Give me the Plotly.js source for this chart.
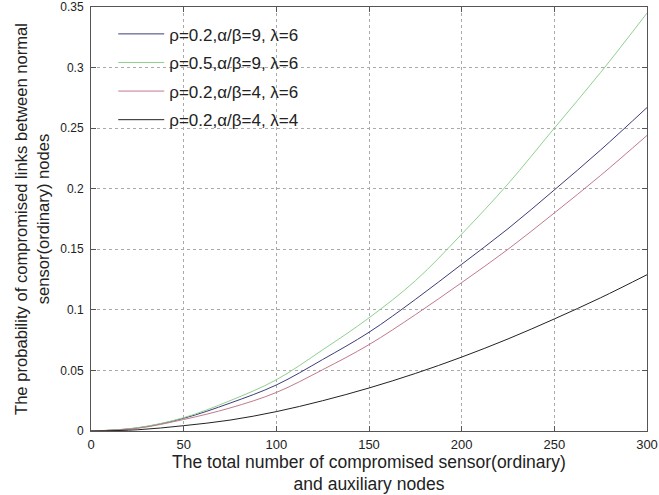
<!DOCTYPE html>
<html>
<head>
<meta charset="utf-8">
<script src="https://cdn.plot.ly/plotly-3.0.1.min.js"></script>
<style>html,body{margin:0;padding:0;background:#fff;}#chart{width:659px;height:495px;}</style>
</head>
<body>
<div id="chart"></div>
<script>
const xVals = [0, 25, 50, 75, 100, 125, 150, 175, 200, 225, 250, 275, 300];
const seriesNames = ["ρ=0.2,α/β=9, λ=6", "ρ=0.5,α/β=9, λ=6", "ρ=0.2,α/β=4, λ=6", "ρ=0.2,α/β=4, λ=4"];
const yBlue  = [0, 0.0025, 0.0105, 0.023, 0.038, 0.059, 0.0815, 0.1086, 0.1376, 0.167, 0.199, 0.232, 0.267];
const yGreen = [0, 0.0027, 0.011, 0.025, 0.0423, 0.067, 0.0934, 0.124, 0.1625, 0.204, 0.25, 0.296, 0.345];
const yRed   = [0, 0.0022, 0.0095, 0.019, 0.0318, 0.0506, 0.0713, 0.096, 0.1225, 0.15, 0.18, 0.211, 0.244];
const yBlack = [0, 0.001, 0.0044, 0.009, 0.016, 0.025, 0.0355, 0.0475, 0.061, 0.076, 0.0925, 0.11, 0.129];
const colors = ["#3c3c78", "#8fd08f", "#c07a8a", "#222222"];
const ys = [yBlue, yGreen, yRed, yBlack];

const traces = ys.map((y, i) => ({
  x: xVals, y: y, type: "scatter", mode: "lines", name: seriesNames[i],
  legendgroup: "g" + i,
  line: {color: colors[i], width: 1, shape: "spline"}
}));

const axisCommon = {
  showline: true, mirror: "ticks", linecolor: "#555", linewidth: 1,
  ticks: "inside", ticklen: 5, tickcolor: "#555",
  showgrid: true, gridcolor: "#aaa", griddash: "dot", gridwidth: 1,
  zeroline: false, tickfont: {family: "Liberation Sans, Arial, sans-serif", size: 12, color: "#222"}
};

const layout = {
  width: 659, height: 495,
  margin: {l: 91, r: 12, t: 7, b: 64},
  paper_bgcolor: "#fff", plot_bgcolor: "#fff",
  font: {family: "Liberation Sans, Arial, sans-serif", color: "#222"},
  showlegend: true,
  legend: {x: 0.04, y: 0.978, xanchor: "left", yanchor: "top", bgcolor: "rgba(0,0,0,0)",
    font: {size: 17, family: "Liberation Sans, Arial, sans-serif", color: "#222"},
    tracegroupgap: 3.5, itemwidth: 46},
  xaxis: Object.assign({}, axisCommon, {
    range: [0, 300], tickvals: [0, 50, 100, 150, 200, 250, 300], ticklabelstandoff: 1,
    tickfont: {family: "Liberation Sans, Arial, sans-serif", size: 13, color: "#222"},
    title: {text: "The total number of compromised sensor(ordinary)<br>and auxiliary nodes",
      font: {size: 17.5, color: "#222"}, standoff: 1}
  }),
  yaxis: Object.assign({}, axisCommon, {
    range: [0, 0.35], tickvals: [0, 0.05, 0.1, 0.15, 0.2, 0.25, 0.3, 0.35],
    ticktext: ["0", "0.05", "0.1", "0.15", "0.2", "0.25", "0.3", "0.35"], ticklabelstandoff: 4,
    title: {text: "The probability of compromised links between normal<br>sensor(ordinary) nodes",
      font: {size: 16.6, color: "#222"}, standoff: 6}
  })
};

Plotly.newPlot("chart", traces, layout, {displayModeBar: false, staticPlot: true});
</script>
</body>
</html>
